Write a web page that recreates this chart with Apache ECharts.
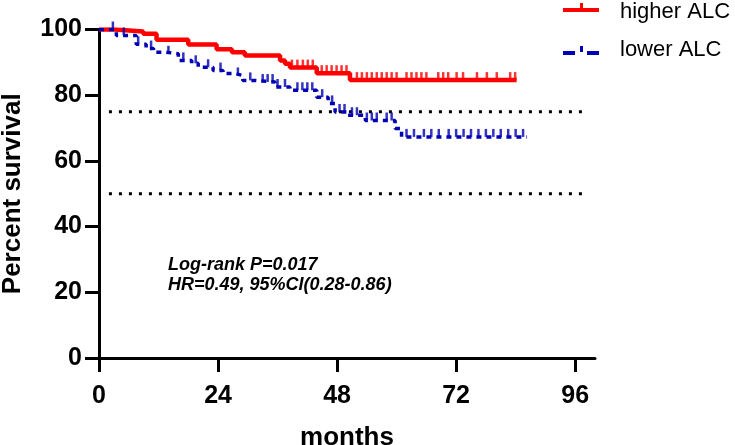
<!DOCTYPE html>
<html><head><meta charset="utf-8">
<script src="https://cdn.jsdelivr.net/npm/echarts@6/dist/echarts.min.js"></script>
<style>html,body{margin:0;padding:0;background:#fff}#c{width:735px;height:445px}</style>
</head><body><div id="c"></div>
<script>
const xTicks = [0, 24, 48, 72, 96];
const yTicks = [0, 20, 40, 60, 80, 100];
const seriesNames = ['higher ALC', 'lower ALC'];

const highTimes = [0, 3.2, 8.9, 11.6, 18, 23.7, 26.8, 29.4, 36.5, 37.5, 38.5, 43.9, 50.6];
const highSurv  = [100, 99.4, 98.7, 96.9, 95.4, 94.0, 93.1, 92.1, 90.6, 89.6, 88.4, 86.7, 84.6];
const highEnd = 84.2;
const highCensor = [38.9, 40, 41.1, 42.1, 43.1, 44.9, 45.9, 46.9, 47.9, 48.9, 49.9, 52, 53, 54, 55, 56, 57, 58, 59, 60, 62, 63, 64, 65, 66, 68.4, 69.4, 70.4, 72.1, 73.4, 76.2, 78.2, 80.2, 82.9, 83.9];

const lowTimes = [0, 3.5, 7.5, 9.5, 11, 13.5, 16, 18.7, 20, 23, 25, 27.4, 29, 31.5, 35.5, 38.5, 43.9, 46.2, 47.6, 50, 53.7, 59.7, 61];
const lowSurv  = [100, 98.2, 95.5, 94.2, 93.1, 92.6, 90.6, 89.7, 88.5, 87.5, 86.6, 86.0, 84.5, 84.0, 82.5, 81.5, 79.4, 77.5, 74.9, 73.9, 72.3, 69.9, 67.3];
const lowEnd = 86.3;
const lowCensor = [2.8, 5, 7.9, 10.5, 14, 17, 19.5, 22, 24.5, 28, 30.5, 33, 34, 35, 36, 37.5, 40, 41, 42, 43, 45, 47, 48.5, 49.5, 51, 52, 54, 55, 56, 58, 59, 62, 63.5, 65.5, 67, 68.5, 70.5, 72, 73.5, 75, 76.5, 78, 79.5, 81, 82.5, 84, 85.5];

const refLevels = [75, 50];
const refRange = [2, 98];
const annotLines = ['Log-rank P=0.017', 'HR=0.49, 95%CI(0.28-0.86)'];

const RED = '#ff0000', BLUE = '#0000b4';
const FONT = '"Liberation Sans", Arial, sans-serif';

function stepData(t, s, end) {
  const d = t.map((x, i) => [x, s[i]]);
  d.push([end, s[s.length - 1]]);
  return d;
}
function survAt(t, s, x) {
  let v = s[0];
  for (let i = 0; i < t.length; i++) if (t[i] <= x) v = s[i];
  return v;
}

const series = [
  { name: seriesNames[0], type: 'line', step: 'end', data: stepData(highTimes, highSurv, highEnd),
    showSymbol: false, symbol: 'none', lineStyle: { color: RED, width: 4.5 }, itemStyle: { color: RED }, z: 3 },
  { name: seriesNames[1], type: 'line', step: 'end', data: stepData(lowTimes, lowSurv, lowEnd),
    showSymbol: false, symbol: 'none', lineStyle: { color: BLUE, width: 3.5, type: [5, 5] }, itemStyle: { color: BLUE }, z: 3 },
  { type: 'scatter', data: highCensor.map(x => [x, survAt(highTimes, highSurv, x)]),
    symbol: 'rect', symbolSize: [2.5, 8], symbolOffset: [0, -4], itemStyle: { color: RED }, z: 4 },
  { type: 'scatter', data: lowCensor.map(x => [x, survAt(lowTimes, lowSurv, x)]),
    symbol: 'rect', symbolSize: [2.5, 8], symbolOffset: [0, -4], itemStyle: { color: BLUE }, z: 4 }
];
refLevels.forEach(v => series.push({
  type: 'line', data: [[refRange[0], v], [refRange[1], v]], symbol: 'none', silent: true,
  lineStyle: { color: '#000', width: 3, type: [3, 7] }, z: 2
}));

const chart = echarts.init(document.getElementById('c'), null, { renderer: 'canvas' });
chart.setOption({
  animation: false,
  backgroundColor: '#fff',
  grid: { left: 99, right: 140, top: 29.5, bottom: 87, containLabel: false, outerBoundsMode: 'none' },
  xAxis: {
    type: 'value', min: 0, max: 100,
    name: 'months', nameLocation: 'middle', nameGap: 67,
    nameTextStyle: { fontSize: 26, fontWeight: 'bold', color: '#000', fontFamily: FONT },
    axisLine: { show: true, onZero: false, lineStyle: { color: '#000', width: 3 } },
    axisTick: { show: true, length: 14, lineStyle: { color: '#000', width: 3 }, customValues: xTicks },
    axisLabel: { fontSize: 25, fontWeight: 'bold', color: '#000', fontFamily: FONT, margin: 26, customValues: xTicks },
    splitLine: { show: false }
  },
  yAxis: {
    type: 'value', min: 0, max: 100, interval: 20,
    name: 'Percent survival', nameLocation: 'middle', nameGap: 73,
    nameTextStyle: { fontSize: 26, fontWeight: 'bold', color: '#000', fontFamily: FONT },
    axisLine: { show: true, lineStyle: { color: '#000', width: 3 } },
    axisTick: { show: true, length: 14, lineStyle: { color: '#000', width: 3 } },
    axisLabel: { fontSize: 25, fontWeight: 'bold', color: '#000', fontFamily: FONT, margin: 17 },
    splitLine: { show: false }
  },
  series: series,
  graphic: [
    { type: 'rect', shape: { x: 563, y: 8, width: 36, height: 4 }, style: { fill: RED } },
    { type: 'rect', shape: { x: 580, y: 3, width: 3, height: 7 }, style: { fill: RED } },
    { type: 'text', style: { x: 620, y: 12, text: seriesNames[0], fill: '#000', font: '22px ' + FONT, verticalAlign: 'middle' } },
    { type: 'rect', shape: { x: 563, y: 51, width: 12, height: 4 }, style: { fill: BLUE } },
    { type: 'rect', shape: { x: 580, y: 46, width: 3, height: 6 }, style: { fill: BLUE } },
    { type: 'rect', shape: { x: 587, y: 51, width: 12, height: 4 }, style: { fill: BLUE } },
    { type: 'text', style: { x: 620, y: 50, text: seriesNames[1], fill: '#000', font: '22px ' + FONT, verticalAlign: 'middle' } },
    { type: 'text', style: { x: 168, y: 265, text: annotLines[0], fill: '#000', font: 'italic bold 18px ' + FONT, verticalAlign: 'middle' } },
    { type: 'text', style: { x: 168, y: 285, text: annotLines[1], fill: '#000', font: 'italic bold 18px ' + FONT, verticalAlign: 'middle' } }
  ]
});
</script></body></html>
